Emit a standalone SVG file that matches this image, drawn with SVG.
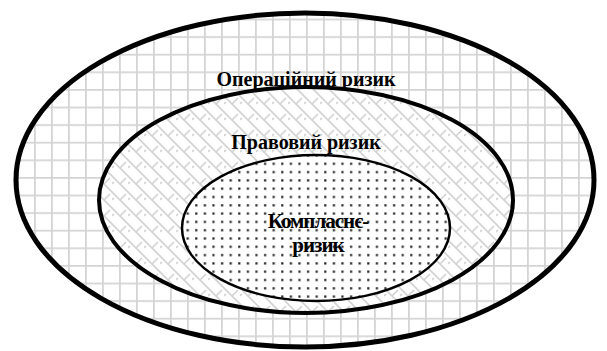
<svg xmlns="http://www.w3.org/2000/svg" width="607" height="351" viewBox="0 0 607 351">
<defs>
<pattern id="grid" patternUnits="userSpaceOnUse" x="0" y="1" width="17" height="17.6">
<rect width="17" height="17.6" fill="#fff"/>
<path d="M0.8,0V17.6M0,0.8H17" stroke="#d4d4d4" stroke-width="2" fill="none"/>
</pattern>
<pattern id="shingle" patternUnits="userSpaceOnUse" width="16" height="16">
<rect width="16" height="16" fill="#fff"/>
<path d="M0,0L16,16M-2,14L2,18M14,-2L18,2M8,8L14,2M0,8L2,6" stroke="#d2d2d2" stroke-width="1.6" fill="none"/>
</pattern>
<pattern id="dots" patternUnits="userSpaceOnUse" x="3" y="2" width="8.6" height="8.3">
<rect width="8.6" height="8.3" fill="#fff"/>
<rect x="3" y="3" width="2.2" height="2.2" fill="#222"/>
</pattern>
<style>
.lbl{font-family:"Liberation Serif","Times New Roman",serif;font-weight:bold;font-size:20px;fill:#000;text-anchor:middle}
.in{font-size:21px;letter-spacing:-1px}
</style>
</defs>
<g id="operational">
<ellipse cx="305" cy="180" rx="289" ry="167" fill="url(#grid)" stroke="#000" stroke-width="5"/>
<text class="lbl" x="306" y="86">Операційний ризик</text>
</g>
<g id="legal">
<ellipse cx="306" cy="200" rx="207" ry="113" fill="url(#shingle)" stroke="#000" stroke-width="4"/>
<text class="lbl" x="306" y="149">Правовий ризик</text>
</g>
<g id="compliance">
<ellipse cx="316" cy="228" rx="134" ry="73" fill="url(#dots)" stroke="#000" stroke-width="2.5"/>
<text class="lbl in" x="318" y="228">Компласнє-</text>
<text class="lbl in" x="318" y="252">ризик</text>
</g>
<g id="connectors"/>
</svg>
